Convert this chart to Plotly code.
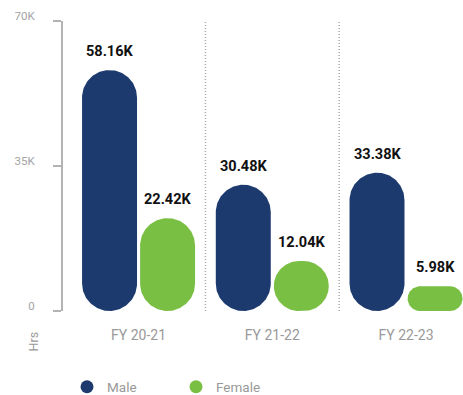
import numpy as np
import plotly.graph_objects as go

# ---- data -------------------------------------------------------------
years = ["FY 20-21", "FY 21-22", "FY 22-23"]
male_hrs = [58160, 30480, 33380]
female_hrs = [22420, 12040, 5980]
y_tick_vals = [0, 35000, 70000]
y_tick_text = ["0", "35K", "70K"]

# ---- styling ----------------------------------------------------------
MALE_COLOR = "#1d3a6e"
FEMALE_COLOR = "#79bf43"
AXIS_GRAY = "#b3b3b3"
TEXT_GRAY = "#999999"
FONT = "Roboto, Liberation Sans, sans-serif"

W, H = 463, 395
M_L, M_R, M_T, M_B = 63, 0, 21, 84
X_RANGE = [-0.565, 2.426]
Y_RANGE = [0, 70000]
BAR_W = 0.411      # bar width in category units
OFFSET = 0.217     # distance of each bar centre from the category centre

plot_w = W - M_L - M_R
plot_h = H - M_T - M_B
px_x = plot_w / (X_RANGE[1] - X_RANGE[0])
px_y = plot_h / (Y_RANGE[1] - Y_RANGE[0])


def pill(xc, value, n=40):
    """Outline of a bar from 0 to `value`, fully rounded at both ends."""
    w = BAR_W * px_x
    h = value * px_y
    r = min(w, h) / 2
    centres = [(w / 2 - r, h - r, 0), (-w / 2 + r, h - r, 90),
               (-w / 2 + r, r, 180), (w / 2 - r, r, 270)]
    xs, ys = [], []
    for cx, cy, a0 in centres:
        t = np.radians(np.linspace(a0, a0 + 90, n))
        xs.extend(xc + (cx + r * np.cos(t)) / px_x)
        ys.extend((cy + r * np.sin(t)) / px_y)
    xs.append(xs[0])
    ys.append(ys[0])
    return xs, ys


fig = go.Figure()
annotations = []

for name, values, color, sign in [("Male", male_hrs, MALE_COLOR, -1),
                                  ("Female", female_hrs, FEMALE_COLOR, 1)]:
    for i, v in enumerate(values):
        xc = i + sign * OFFSET
        xs, ys = pill(xc, v)
        fig.add_trace(go.Scatter(
            x=xs, y=ys, mode="lines", fill="toself", fillcolor=color,
            line=dict(width=0, color=color), hoverinfo="skip",
            legendgroup=name, showlegend=False,
        ))
        annotations.append(dict(
            x=xc, y=v, xref="x", yref="y", text=f"{v / 1000:.2f}K",
            showarrow=False, xanchor="center", yanchor="bottom", yshift=8,
            font=dict(family=FONT, size=14.5, color="#111111", weight="bold"),
        ))
    # legend entry
    fig.add_trace(go.Scatter(
        x=[None], y=[None], mode="markers", name=name, legendgroup=name,
        marker=dict(size=13, color=color, symbol="circle"),
    ))

# dotted separators between the years
shapes = [
    dict(type="line", xref="x", yref="y", x0=b, x1=b, y0=Y_RANGE[0], y1=Y_RANGE[1],
         line=dict(color="#a8a8a8", width=1.5, dash="1px,2px"), layer="below")
    for b in [0.5, 1.5]
]

annotations.append(dict(
    x=(32.5 - M_L) / plot_w, y=-(342 - (M_T + plot_h)) / plot_h,
    xref="paper", yref="paper", xanchor="center", yanchor="middle",
    text="Hrs", textangle=-90, showarrow=False,
    font=dict(family=FONT, size=12.5, color=TEXT_GRAY),
))

fig.update_layout(
    width=W, height=H,
    margin=dict(l=M_L, r=M_R, t=M_T, b=M_B, pad=0),
    plot_bgcolor="white", paper_bgcolor="white",
    shapes=shapes, annotations=annotations,
    showlegend=True,
    legend=dict(
        orientation="h", xref="container", yref="container",
        x=67 / W, xanchor="left", y=1 - 387 / H, yanchor="middle",
        font=dict(family=FONT, size=13.5, color=TEXT_GRAY),
        entrywidth=64, entrywidthmode="pixels", bgcolor="rgba(0,0,0,0)",
    ),
    xaxis=dict(
        range=X_RANGE, tickmode="array", tickvals=list(range(len(years))),
        ticktext=years, showgrid=False, zeroline=False, showline=False,
        ticks="", tickfont=dict(family=FONT, size=14, color=TEXT_GRAY),
        ticklabelstandoff=14, fixedrange=True,
    ),
    yaxis=dict(
        range=Y_RANGE, tickmode="array", tickvals=y_tick_vals, ticktext=y_tick_text,
        showgrid=False, zeroline=False, showline=True, linecolor=AXIS_GRAY, linewidth=2,
        ticks="outside", ticklen=8, tickwidth=2, tickcolor=AXIS_GRAY,
        tickfont=dict(family=FONT, size=11.5, color="#a3a3a3"),
        ticklabelstandoff=16, ticklabelshift=-5, fixedrange=True,
    ),
)

fig.write_html("out.html")
